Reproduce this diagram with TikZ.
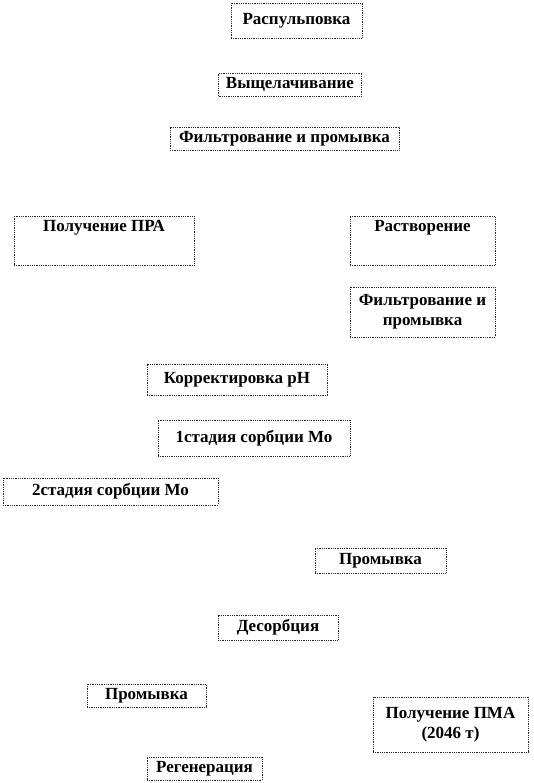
\documentclass[tikz,border=0pt]{standalone}
\usepackage{fontspec}
\setmainfont{Liberation Serif}
\usepackage{tikz}
\usetikzlibrary{positioning}

\begin{document}
\begin{tikzpicture}[
    x=1pt,y=-1pt,
    box/.style={rectangle,draw=black!85,densely dotted,line width=0.8pt,fill=white,inner sep=2pt,font=\bfseries\fontsize{17}{20}\selectfont,align=center},
    tallbox/.style={box,anchor=north,text depth=30pt,inner ysep=4pt}
]
\useasboundingbox (0,0) rectangle (534,783);

\node[box,minimum width=131pt,minimum height=35pt] (raspulp) at (296.5,20.5) {Распульповка};
\node[box,minimum width=143pt,minimum height=23pt] (vyshch) at (290,84.5) {Выщелачивание};
\node[box,minimum width=229pt,minimum height=23pt] (filtr1) at (284.5,138.5) {Фильтрование и промывка};
\node[tallbox,minimum width=180pt] (pra) at (104,216) {Получение ПРА};
\node[tallbox,minimum width=145pt] (rastv) at (422.5,216) {Растворение};
\node[box,minimum width=145pt,minimum height=50pt] (filtr2) at (422.5,312) {Фильтрование и\\промывка};
\node[box,minimum width=180pt,minimum height=31pt] (korr) at (237,379.5) {Корректировка pH};
\node[box,minimum width=192pt,minimum height=36pt] (sorb1) at (254,438) {1стадия сорбции Мо};
\node[box,minimum width=215pt,minimum height=27pt] (sorb2) at (110.5,491.5) {2стадия сорбции Мо};
\node[box,minimum width=131pt,minimum height=25pt] (prom1) at (380.5,560.5) {Промывка};
\node[box,minimum width=120pt,minimum height=25pt] (desorb) at (278,627.5) {Десорбция};
\node[box,minimum width=119pt,minimum height=23pt] (prom2) at (146.5,695.5) {Промывка};
\node[box,minimum width=155pt,minimum height=55pt] (pma) at (450.5,724.5) {Получение ПМА\\(2046 т)};
\node[box,minimum width=115pt,minimum height=23pt] (regen) at (204.5,768.5) {Регенерация};
\end{tikzpicture}
\end{document}
